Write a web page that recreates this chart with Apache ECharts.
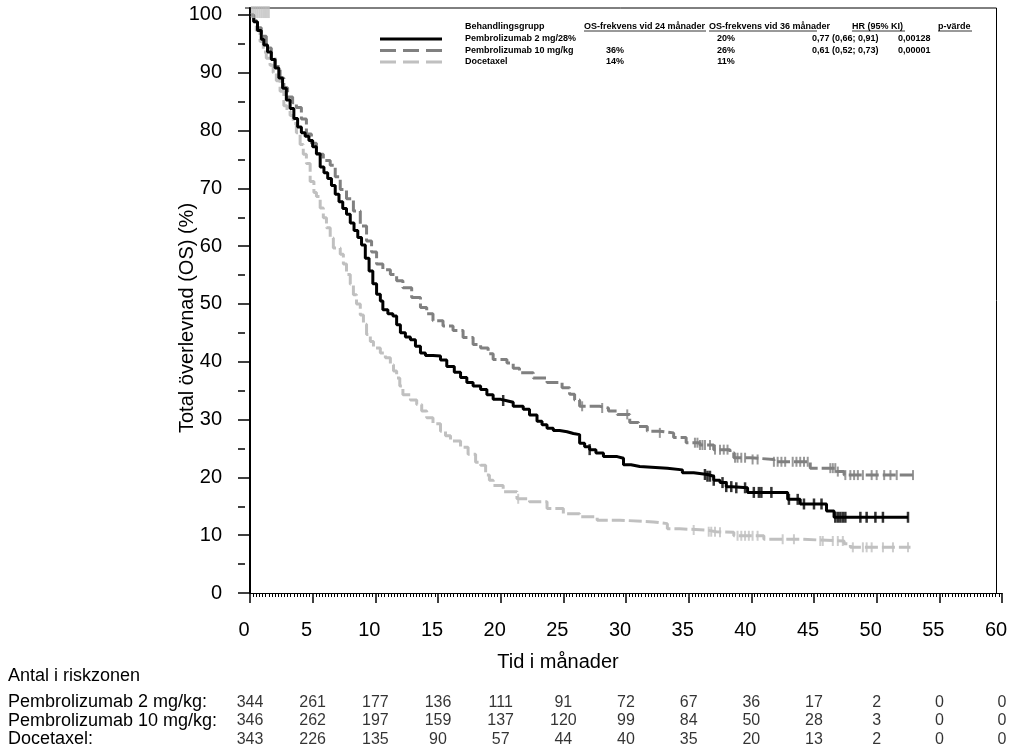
<!DOCTYPE html>
<html>
<head>
<meta charset="utf-8">
<script src="https://cdn.jsdelivr.net/npm/echarts@6/dist/echarts.min.js"></script>
<style>
    html, body { margin: 0; padding: 0; background: #fff; }
    #main { width: 1019px; height: 753px; }
</style>
</head>
<body>
<div id="main"></div>
<script>
    // Kaplan-Meier curves: [months, survival %]
    var pembro2 = [[0,100],[0.3,98.8],[0.6,97.3],[0.9,95.8],[1.1,94.8],[1.4,93.6],[1.7,92.3],[2.0,90.8],[2.3,89.1],
        [2.6,87.3],[2.9,85.3],[3.2,83.8],[3.5,82.1],[3.8,80.6],[4.1,79.6],[4.4,79.0],[4.7,78.3],[5.0,77.2],[5.3,76.0],
        [5.6,73.7],[5.9,72.7],[6.2,71.7],[6.5,70.5],[6.8,69.0],[7.1,67.7],[7.4,66.5],[7.7,65.5],[8.0,64.0],[8.3,62.7],
        [8.6,61.5],[8.9,60.2],[9.2,57.9],[9.5,55.7],[9.8,53.5],[10.1,51.7],[10.4,50.5],[10.6,49.0],[11.0,48.3],[11.4,47.9],
        [11.7,46.4],[12.0,45.0],[12.4,44.3],[12.8,43.8],[13.2,42.7],[13.6,41.5],[14.0,41.1],[14.6,41.0],[15.2,40.3],
        [15.7,39.2],[16.3,38.2],[16.8,37.3],[17.3,36.4],[17.8,35.8],[18.4,35.2],[18.9,34.3],[19.4,33.5],[20.0,33.3],
        [20.4,33.0],[21.0,32.3],[21.8,31.8],[22.3,30.8],[22.9,29.7],[23.3,29.1],[23.7,28.5],[24.2,28.1],[24.7,27.9],
        [25.3,27.6],[25.8,27.4],[26.3,25.9],[26.7,25.3],[27.1,24.8],[27.6,24.2],[28.2,23.6],[29.3,23.3],[29.8,22.2],
        [30.4,21.9],[31.1,21.6],[33.3,21.3],[34.5,20.8],[35.4,20.5],[36.5,20.2],[37.0,19.5],[37.5,19.1],[38.0,18.4],
        [38.5,18.2],[39.7,17.4],[42.9,16.2],[43.9,15.4],[46.0,14.2],[46.6,13.1],[52.5,13.1]];

    var pembro10 = [[0,100],[0.3,99.0],[0.6,97.8],[0.9,96.3],[1.3,94.3],[1.7,92.6],[2.0,91.1],[2.4,89.1],[2.7,87.4],
        [3.0,85.8],[3.4,84.8],[3.7,84.0],[4.1,82.0],[4.5,79.4],[4.9,77.8],[5.3,75.9],[5.85,74.8],[6.4,74.0],[6.8,72.0],
        [7.2,69.8],[7.7,68.2],[8.25,66.1],[8.8,63.5],[9.3,60.9],[9.7,59.0],[10.1,56.9],[10.6,55.9],[11.2,55.1],[11.7,54.0],
        [12.2,52.8],[12.9,51.1],[13.6,49.4],[14.1,48.3],[14.6,47.1],[15.4,46.2],[16.2,45.4],[17.0,44.2],[17.8,43.0],
        [18.4,42.4],[19.0,41.4],[19.4,40.4],[20.5,39.8],[21.0,38.9],[21.5,38.1],[22.6,37.2],[23.7,36.4],[24.9,35.5],
        [25.5,34.4],[25.9,33.4],[26.3,32.3],[27.9,32.0],[28.6,31.5],[29.3,30.9],[30.3,29.5],[31.0,28.8],[31.7,28.0],
        [32.7,27.7],[33.8,26.9],[34.8,26.0],[35.9,25.6],[37.0,24.8],[38.3,24.3],[38.6,23.4],[39.9,23.1],[41.8,22.7],
        [44.7,21.6],[46.8,21.0],[47.4,20.4],[52.9,20.4]];

    var docetaxel = [[0,100],[0.27,98.8],[0.5,97.3],[0.8,95.4],[1.06,93.6],[1.3,92.5],[1.6,91.3],[1.85,90.0],[2.1,88.6],
        [2.4,86.8],[2.7,84.3],[2.95,83.4],[3.2,82.6],[3.45,81.2],[3.7,79.6],[4.0,77.6],[4.25,75.9],[4.5,74.3],[4.8,71.2],
        [5.1,69.3],[5.3,68.6],[5.6,66.6],[5.85,64.9],[6.1,63.2],[6.4,61.4],[6.65,59.7],[7.2,58.6],[7.45,56.9],[7.7,55.1],
        [8.0,53.4],[8.25,51.6],[8.5,50.0],[8.8,48.1],[9.05,46.5],[9.3,44.7],[9.6,43.5],[9.85,42.4],[10.4,41.5],[10.8,40.7],
        [11.2,39.5],[11.45,38.4],[11.7,37.2],[11.95,35.8],[12.2,34.3],[12.8,33.4],[13.3,32.6],[13.7,31.5],[14.1,30.3],
        [14.6,29.3],[15.2,28.0],[15.6,27.2],[16.0,26.3],[16.8,25.2],[17.4,24.0],[18.0,22.6],[18.4,22.1],[18.8,20.4],
        [19.1,19.5],[19.4,18.6],[20.2,17.5],[21.3,16.3],[22.3,15.8],[23.7,14.6],[25.0,13.7],[26.3,13.2],[27.7,12.6],
        [29.5,12.3],[32.2,12.0],[33.3,11.1],[34.3,10.9],[36.4,10.6],[37.2,10.5],[38.6,9.9],[41.0,9.3],[43.9,9.0],
        [47.4,8.5],[47.9,7.9],[52.7,7.9]];

    // censoring times (months)
    var censor2 = [20.2, 27.1, 36.3, 36.5, 36.7, 37.0, 37.7, 38.0, 38.4, 38.8, 39.5, 40.2, 40.6, 40.8, 41.6, 43.0, 43.7,
        44.2, 45.0, 45.6, 46.7, 46.9, 47.1, 47.3, 47.5, 48.7, 49.2, 49.9, 50.5, 52.5];
    var censor10 = [26.5, 28.1, 30.1, 32.7, 35.5, 35.7, 35.9, 36.1, 36.3, 36.7, 37.1, 37.5, 37.8, 38.1, 38.7, 38.9, 39.2,
        39.5, 40.1, 40.5, 41.8, 42.1, 42.4, 42.7, 43.3, 43.6, 43.9, 44.2, 44.5, 46.3, 46.5, 46.7, 46.9, 47.5, 47.9, 48.2,
        48.5, 48.9, 49.6, 50.0, 50.6, 51.1, 51.6, 52.9];
    var censorDoc = [21.4, 35.4, 36.6, 36.8, 37.1, 37.5, 38.9, 39.2, 39.5, 39.8, 40.1, 40.5, 42.5, 43.4, 45.5, 45.7, 46.5,
        46.9, 47.3, 48.1, 48.9, 49.2, 49.6, 50.5, 51.3, 52.5];
    // grey block of marks drawn at the very top
    var censorTop = [[0.15,100.5],[0.3,100.5],[0.45,100.5],[0.6,100.5],[0.75,100.5],[0.9,100.5],[1.05,100.5],
        [1.2,100.5],[1.35,100.5],[1.5,100.5]];

    // number at risk
    var riskTimes = [0, 5, 10, 15, 20, 25, 30, 35, 40, 45, 50, 55, 60];
    var riskGroups = ['Pembrolizumab 2 mg/kg:', 'Pembrolizumab 10 mg/kg:', 'Docetaxel:'];
    var risk2 = [344, 261, 177, 136, 111, 91, 72, 67, 36, 17, 2, 0, 0];
    var risk10 = [346, 262, 197, 159, 137, 120, 99, 84, 50, 28, 3, 0, 0];
    var riskDoc = [343, 226, 135, 90, 57, 44, 40, 35, 20, 13, 2, 0, 0];

    // legend table
    var legendHeader = ['Behandlingsgrupp', 'OS-frekvens vid 24 månader', 'OS-frekvens vid 36 månader', 'HR (95% KI)', 'p-värde'];
    var legendNames = ['Pembrolizumab 2 mg/28%', 'Pembrolizumab 10 mg/kg', 'Docetaxel'];
    var os24 = ['', '36%', '14%'];
    var os36 = ['20%', '26%', '11%'];
    var hrText = ['0,77 (0,66; 0,91)', '0,61 (0,52; 0,73)', ''];
    var pText = ['0,00128', '0,00001', ''];

    var yTicks = [0, 10, 20, 30, 40, 50, 60, 70, 80, 90, 100];
    var yMinor = [5, 15, 25, 35, 45, 55, 65, 75, 85, 95];

    var font = 'Arial, "Liberation Sans", sans-serif';
    var colors = ['#000000', '#808080', '#c0c0c0'];

    function survAt(curve, t) {
        var s = curve[0][1];
        for (var i = 0; i < curve.length; i++) {
            if (curve[i][0] <= t) s = curve[i][1];
            else break;
        }
        return s;
    }
    function censorPoints(curve, times) {
        return times.map(function (t) { return [t, survAt(curve, t)]; });
    }
    function riskRow(k, arr) {
        return riskTimes.map(function (t, i) { return [t, riskGroups[k], arr[i]]; });
    }

    var myChart = echarts.init(document.getElementById('main'));

    var graphics = [
        // frame round the plot
        { type: 'line', shape: { x1: 245, y1: 8, x2: 996.5, y2: 8 }, style: { stroke: '#000', lineWidth: 1 } },
        { type: 'line', shape: { x1: 996.5, y1: 8, x2: 996.5, y2: 593 }, style: { stroke: '#000', lineWidth: 1 } },
        { type: 'text', x: 187, y: 318, rotation: Math.PI / 2,
          style: { text: 'Total överlevnad (OS) (%)', fontSize: 20, fontFamily: font, fill: '#000', align: 'center', verticalAlign: 'middle' } },
        { type: 'text', x: 558, y: 662,
          style: { text: 'Tid i månader', fontSize: 20, fontFamily: font, fill: '#000', align: 'center', verticalAlign: 'middle' } },
        { type: 'text', x: 8, y: 676,
          style: { text: 'Antal i riskzonen', fontSize: 18, fontFamily: font, fill: '#000', align: 'left', verticalAlign: 'middle' } }
    ];

    // legend
    var hx = [465, 584, 709, 852, 938];
    var hw = [0, 122, 108, 53, 34];
    legendHeader.forEach(function (h, i) {
        graphics.push({ type: 'text', x: hx[i], y: 26.5,
            style: { text: h, fontSize: 9, fontWeight: 'bold', fontFamily: font, fill: '#000', align: 'left', verticalAlign: 'middle' } });
        if (i > 0) {
            graphics.push({ type: 'line', shape: { x1: hx[i], y1: 31, x2: hx[i] + hw[i], y2: 31 }, style: { stroke: '#000', lineWidth: 0.8 } });
        }
    });
    var rowY = [39, 50.5, 62];
    var dashes = [null, [16, 7], [16, 7]];
    legendNames.forEach(function (n, i) {
        graphics.push({ type: 'line', shape: { x1: 380, y1: rowY[i], x2: 442, y2: rowY[i] },
            style: { stroke: colors[i], lineWidth: 3, lineDash: dashes[i] } });
        var cells = [[n, 465, 'left'], [os24[i], 615, 'center'], [os36[i], 726, 'center'], [hrText[i], 812, 'left'], [pText[i], 898, 'left']];
        cells.forEach(function (c) {
            if (!c[0]) return;
            graphics.push({ type: 'text', x: c[1], y: rowY[i],
                style: { text: c[0], fontSize: 9, fontWeight: 'bold', fontFamily: font, fill: '#000', align: c[2], verticalAlign: 'middle' } });
        });
    });

    function riskSeries(k, arr) {
        return {
            type: 'scatter', xAxisIndex: 1, yAxisIndex: 2, symbolSize: 1,
            itemStyle: { color: 'rgba(0,0,0,0)' },
            label: { show: true, position: 'inside', color: '#000', fontSize: 16, fontFamily: font,
                formatter: function (p) { return p.value[2]; } },
            data: riskRow(k, arr)
        };
    }
    function censorSeries(pts, color, w, h, clip) {
        return {
            type: 'scatter', symbol: 'rect', symbolSize: [w, h], clip: clip,
            itemStyle: { color: color }, data: pts, z: 3
        };
    }

    var option = {
        animation: false,
        textStyle: { fontFamily: font },
        grid: [
            { left: 250, right: 17, top: 8, bottom: 160 },
            { left: 250, right: 17, top: 693, height: 55.5 }
        ],
        xAxis: [
            {
                gridIndex: 0, type: 'value', min: 0, max: 60, interval: 5,
                axisLine: { lineStyle: { color: '#000', width: 1 } },
                axisTick: { length: 10, lineStyle: { color: '#000', width: 1.5 } },
                minorTick: { show: true, splitNumber: 20, length: 4, lineStyle: { color: '#000', width: 1 } },
                axisLabel: { color: '#000', fontSize: 20, margin: 27, padding: [0, 12, 0, 0] },
                splitLine: { show: false }
            },
            { gridIndex: 1, type: 'value', min: 0, max: 60, show: false }
        ],
        yAxis: [
            {
                gridIndex: 0, type: 'value', position: 'left', min: 0, max: 101.2, interval: 10, offset: 5,
                axisLine: { show: true, lineStyle: { color: '#000', width: 2 } },
                axisTick: { show: true, length: 12, customValues: yTicks, lineStyle: { color: '#000', width: 1.5 } },
                axisLabel: { customValues: yTicks, color: '#000', fontSize: 20, margin: 23 },
                splitLine: { show: false }
            },
            {
                gridIndex: 0, type: 'value', position: 'left', min: 0, max: 101.2, offset: 5,
                axisLine: { show: false },
                axisTick: { show: true, length: 7, customValues: yMinor, lineStyle: { color: '#000', width: 1.5 } },
                axisLabel: { show: false },
                splitLine: { show: false }
            },
            {
                gridIndex: 1, type: 'category', data: riskGroups, inverse: true,
                axisLine: { show: false }, axisTick: { show: false }, splitLine: { show: false },
                axisLabel: { interval: 0, align: 'left', margin: 242, fontSize: 18, color: '#000' }
            }
        ],
        graphic: graphics,
        series: [
            { type: 'line', step: 'end', symbol: 'none', data: docetaxel, z: 2,
              lineStyle: { color: colors[2], width: 3, type: [13, 4] } },
            { type: 'line', step: 'end', symbol: 'none', data: pembro10, z: 2,
              lineStyle: { color: colors[1], width: 3, type: [13, 4] } },
            { type: 'line', step: 'end', symbol: 'none', data: pembro2, z: 2,
              lineStyle: { color: colors[0], width: 3 } },
            censorSeries(censorTop, colors[2], 2, 12, false),
            censorSeries(censorPoints(docetaxel, censorDoc), colors[2], 2, 10, true),
            censorSeries(censorPoints(pembro10, censor10), colors[1], 2, 10, true),
            censorSeries(censorPoints(pembro2, censor2), colors[0], 2.5, 11, true),
            riskSeries(0, risk2),
            riskSeries(1, risk10),
            riskSeries(2, riskDoc)
        ]
    };
    myChart.setOption(option);
</script>
</body>
</html>
